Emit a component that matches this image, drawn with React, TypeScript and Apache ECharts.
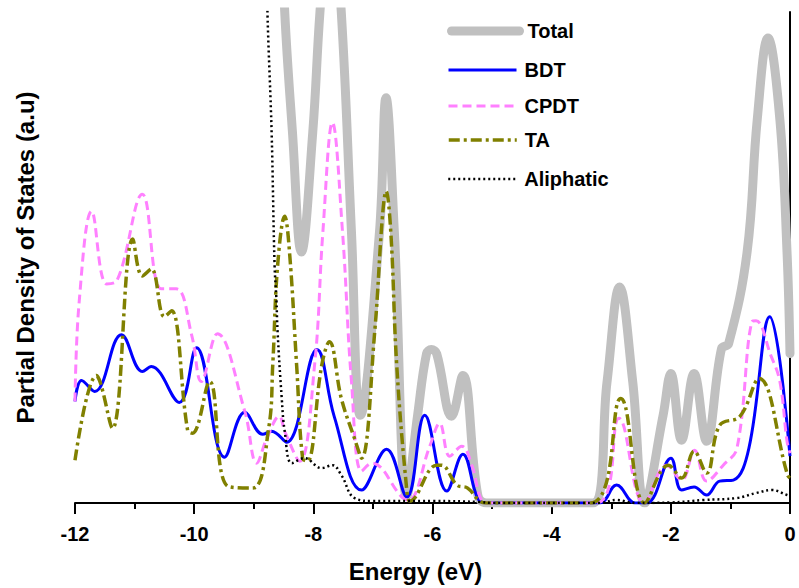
import React, { useEffect, useRef } from "react";
import * as echarts from "echarts";

// Energy (eV), density (a.u.) pairs
const totalDos: [number, number][] = [
  [-8.7, 80], [-8.48, 49.3], [-8.35, 37.2], [-8.2, 25.2], [-8.01, 37.2], [-7.89, 49.2],
  [-7.71, 62], [-7.53, 49.2], [-7.36, 27.2], [-7.21, 8.8], [-6.89, 27.2], [-6.78, 40.7],
  [-6.64, 27.2], [-6.43, 0.7], [-6.25, 8.8], [-6.1, 15.0], [-6.02, 15.4], [-5.93, 15.0],
  [-5.68, 8.7], [-5.49, 12.8], [-5.24, 0.8], [-5.09, 0], [-3.31, 0], [-3.07, 12.2],
  [-2.86, 21.7], [-2.64, 12.2], [-2.44, 0], [-2.13, 8.8], [-2.0, 13.0], [-1.82, 6.3],
  [-1.61, 13.0], [-1.4, 6.2], [-1.15, 15.5], [-1.03, 16.0], [-0.72, 25.2], [-0.55, 38.5],
  [-0.37, 46.7], [-0.17, 38.5], [-0.05, 25.2], [0, 15.0],
];

const bdtDos: [number, number][] = [
  [-12, 10.2], [-11.89, 12.3], [-11.67, 11.2], [-11.22, 16.9], [-10.87, 13.2], [-10.72, 13.7],
  [-10.25, 10.1], [-9.96, 15.6], [-9.49, 4.6], [-9.15, 9.1], [-8.85, 6.9], [-8.7, 7.2],
  [-8.45, 6.1], [-7.94, 15.4], [-7.65, 8.7], [-7.19, 1.3], [-6.77, 5.4], [-6.43, 0.6],
  [-6.13, 8.8], [-5.76, 1.2], [-5.49, 4.9], [-5.21, 0.2], [-5.05, 0], [-3.2, 0],
  [-2.91, 1.8], [-2.6, 0], [-2.4, 0], [-2.0, 4.5], [-1.82, 1.3], [-1.61, 1.6],
  [-1.4, 0.8], [-1.18, 2.2], [-0.95, 2.3], [-0.69, 5.5], [-0.34, 18.7], [0, 4.7],
];

const cpdtDos: [number, number][] = [
  [-12, 10.2], [-11.93, 20.2], [-11.72, 29.3], [-11.47, 22.0], [-11.3, 22.3], [-10.87, 31.0],
  [-10.55, 21.5], [-10.3, 21.5], [-10.04, 16.8], [-9.88, 12.2], [-9.61, 17.0], [-9.15, 9.2],
  [-8.95, 4.0], [-8.78, 6.5], [-8.57, 8.7], [-8.48, 7.2], [-8.23, 4.2], [-7.98, 13.8],
  [-7.84, 27.2], [-7.68, 38.2], [-7.51, 27.2], [-7.36, 12.2], [-7.19, 3.2], [-7.02, 4.0],
  [-6.5, 0.5], [-6.4, 0.3], [-6.04, 5.8], [-5.88, 8.0], [-5.71, 4.7], [-5.51, 5.7],
  [-5.34, 3.8], [-5.17, 0.2], [-5.05, 0], [-3.25, 0], [-2.87, 8.5], [-2.45, 0],
  [-2.07, 3.8], [-1.82, 2.3], [-1.6, 5.3], [-1.4, 2.2], [-1.12, 3.8], [-0.89, 5.5],
  [-0.64, 18.2], [-0.57, 18.3], [-0.32, 14.8], [-0.17, 12.2], [-0.05, 6.2], [0, 5.0],
];

const taDos: [number, number][] = [
  [-12, 4.3], [-11.64, 12.8], [-11.57, 12.0], [-11.37, 7.5], [-11.03, 26.5], [-10.87, 22.8],
  [-10.72, 23.5], [-10.5, 18.7], [-10.38, 19.3], [-10.11, 7.3], [-10.03, 7.0], [-9.74, 12.2],
  [-9.44, 1.7], [-9.02, 1.5], [-8.75, 7.5], [-8.68, 14.0], [-8.6, 23.8], [-8.48, 28.8],
  [-8.4, 25.2], [-8.28, 13.8], [-8.18, 4.5], [-8.1, 4.2], [-7.86, 13.8], [-7.73, 16.2],
  [-7.53, 10.5], [-7.31, 6.5], [-7.19, 4.5], [-6.97, 17.2], [-6.84, 28.8], [-6.78, 31.3],
  [-6.7, 27.2], [-6.6, 13.8], [-6.43, 1.2], [-6.38, 0.2], [-5.93, 3.8], [-5.85, 3.8],
  [-5.59, 1.8], [-5.41, 1.5], [-5.21, 0.2], [-5.1, 0], [-3.35, 0], [-2.84, 10.5],
  [-2.44, 0], [-2.04, 3.8], [-1.82, 2.5], [-1.61, 5.2], [-1.4, 3.0], [-1.18, 7.8],
  [-0.84, 8.7], [-0.52, 12.5], [-0.04, 2.8], [0, 2.5],
];

const aliphaticDos: [number, number][] = [
  [-8.8, 60], [-8.77, 49.3], [-8.7, 37.2], [-8.65, 23.8], [-8.62, 20.5], [-8.6, 17.2],
  [-8.53, 10.5], [-8.48, 7.2], [-8.36, 4.0], [-8.15, 4.5], [-7.86, 3.5], [-7.68, 3.8],
  [-7.53, 2.8], [-7.31, 0.5], [-7.0, 0.2], [-6.0, 0.2], [-5.2, 0.1], [-5.0, 0],
  [-3.2, 0], [-2.91, 0.3], [-2.6, 0], [-2.0, 0.05], [-1.45, 0.3], [-0.89, 0.5],
  [-0.57, 1.0], [-0.3, 1.3], [-0.05, 0.8], [0, 0.7],
];

const seriesNames = ["Total", "BDT", "CPDT", "TA", "Aliphatic"];
const xAxisTitle = "Energy (eV)";
const yAxisTitle = "Partial Density of States (a.u)";

const FONT = 'Arial, "Liberation Sans", sans-serif';

export default function App() {
  const ref = useRef<HTMLDivElement>(null);
  useEffect(() => {
    if (!ref.current) return;
    const chart = echarts.init(ref.current, undefined, { renderer: "svg" });
    const styles: any[] = [
      { color: "#c0c0c0", width: 9, type: "solid", cap: "round" },
      { color: "#0000ff", width: 3, type: "solid" },
      { color: "#ff80ff", width: 3, type: [9, 5] },
      { color: "#808000", width: 3.5, type: [11, 4, 3, 4] },
      { color: "#000000", width: 2.5, type: [2, 3] },
    ];
    const datasets = [totalDos, bdtDos, cpdtDos, taDos, aliphaticDos];
    const legendTops = [21, 60, 96, 130, 169];
    chart.setOption({
      animation: false,
      backgroundColor: "#ffffff",
      grid: { left: 75, right: 9, top: 12, bottom: 83 },
      legend: seriesNames.map((n, i) => ({
        data: [n],
        left: 447,
        top: legendTops[i],
        padding: 0,
        itemWidth: 68,
        itemHeight: 14,
        itemStyle: { opacity: 0 },
        lineStyle: {
          width: styles[i].width,
          type: styles[i].type,
          cap: i === 0 ? "round" : "butt",
          color: styles[i].color,
        },
        textStyle: {
          fontFamily: FONT,
          fontWeight: "bold",
          fontSize: 20,
          color: "#000",
          lineHeight: 20,
          padding: [0, 0, 0, 3],
        },
      })),
      xAxis: {
        type: "value",
        min: -12,
        max: 0,
        interval: 2,
        name: xAxisTitle,
        nameLocation: "middle",
        nameGap: 56,
        nameTextStyle: {
          fontFamily: FONT,
          fontWeight: "bold",
          fontSize: 24,
          color: "#000",
          padding: [0, 34, 0, 0],
        },
        axisLine: { onZero: false, lineStyle: { color: "#000", width: 2 } },
        axisTick: { length: 11, lineStyle: { color: "#000", width: 2 } },
        minorTick: { show: true, splitNumber: 2, length: 6, lineStyle: { color: "#000", width: 2 } },
        axisLabel: {
          margin: 21,
          fontFamily: FONT,
          fontWeight: "bold",
          fontSize: 20,
          color: "#000",
        },
        splitLine: { show: false },
      },
      yAxis: {
        type: "value",
        min: 0,
        max: 49.3,
        name: yAxisTitle,
        nameLocation: "middle",
        nameRotate: 90,
        nameGap: 38,
        nameTextStyle: {
          fontFamily: FONT,
          fontWeight: "bold",
          fontSize: 24,
          color: "#000",
        },
        axisLine: { show: true, lineStyle: { color: "#000", width: 2 } },
        axisTick: { show: false },
        axisLabel: { show: false },
        splitLine: { show: false },
      },
      series: seriesNames.map((n, i) => ({
        name: n,
        type: "line",
        data: datasets[i],
        smooth: 0.4,
        symbol: "none",
        clip: true,
        color: styles[i].color,
        lineStyle: styles[i],
        z: i === 0 ? 1 : 2 + i,
      })),
    });
    return () => chart.dispose();
  }, []);
  return (
    <div
      ref={ref}
      style={{ position: "fixed", left: 0, top: 0, width: 799, height: 588, background: "#fff" }}
    />
  );
}
